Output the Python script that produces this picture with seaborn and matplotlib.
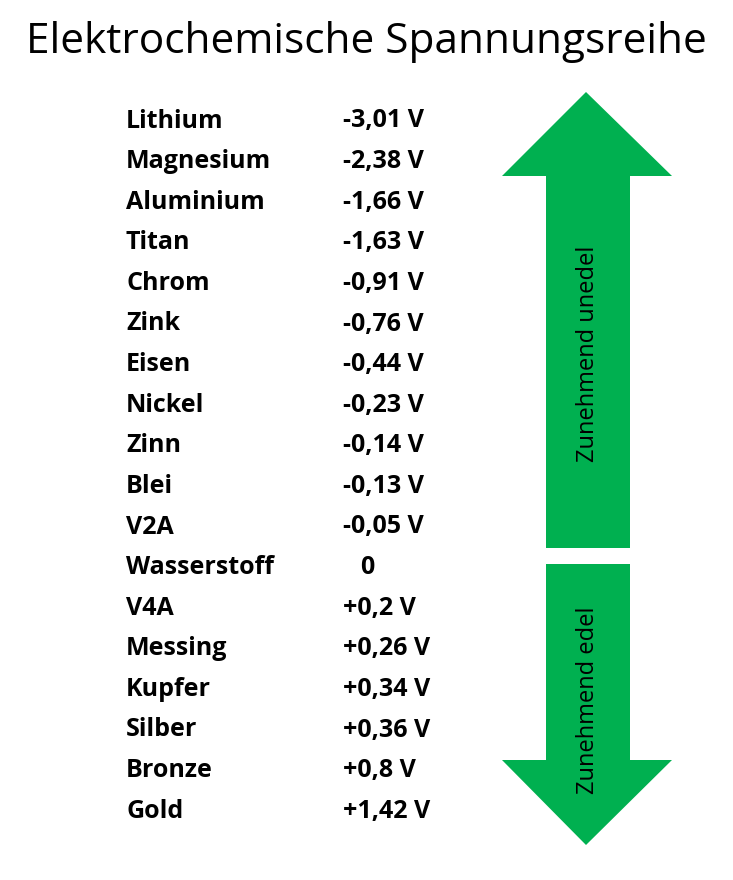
import matplotlib.pyplot as plt
import seaborn as sns
from matplotlib.patches import Polygon

# ---------------------------------------------------------------------------
# Data
# ---------------------------------------------------------------------------
metals = ["Lithium", "Magnesium", "Aluminium", "Titan", "Chrom", "Zink", "Eisen",
          "Nickel", "Zinn", "Blei", "V2A", "Wasserstoff", "V4A", "Messing",
          "Kupfer", "Silber", "Bronze", "Gold"]
potentials = ["-3,01 V", "-2,38 V", "-1,66 V", "-1,63 V", "-0,91 V", "-0,76 V",
              "-0,44 V", "-0,23 V", "-0,14 V", "-0,13 V", "-0,05 V", " 0",
              "+0,2 V", "+0,26 V", "+0,34 V", "+0,36 V", "+0,8 V", "+1,42 V"]
title = "Elektrochemische Spannungsreihe"
up_label = "Zunehmend unedel"
down_label = "Zunehmend edel"

GREEN = "#00B050"

sns.set_theme(style="white")
plt.rcParams["font.family"] = ["Open Sans", "DejaVu Sans"]
plt.rcParams["text.color"] = "black"

fig = plt.figure(figsize=(7.33, 8.8), dpi=100)
ax = fig.add_axes([0, 0, 1, 1])
ax.set_xlim(0, 733)
ax.set_ylim(880, 0)
ax.axis("off")

ax.text(366, 42, title, ha="center", va="center", fontsize=30.5, color="black")

# table rows
y0, dy = 121, 40.6
for i, (name, val) in enumerate(zip(metals, potentials)):
    y = y0 + i * dy
    ax.text(126, y, name, ha="left", va="center", fontsize=18, fontweight="bold",
            color="black")
    x_val = 360 if val.strip() == "0" else 343
    ax.text(x_val, y, val.strip(), ha="left", va="center", fontsize=18,
            fontweight="bold", color="black")

# arrows
up = [(586, 92), (672, 176), (630, 176), (630, 548), (546, 548), (546, 176), (502, 176)]
down = [(546, 564), (630, 564), (630, 760), (672, 760), (586, 845), (502, 760), (546, 760)]
ax.add_patch(Polygon(up, closed=True, facecolor=GREEN, edgecolor="none"))
ax.add_patch(Polygon(down, closed=True, facecolor=GREEN, edgecolor="none"))

ax.text(588, 354, up_label, rotation=90, ha="center", va="center", fontsize=17,
        color="black")
ax.text(588, 700, down_label, rotation=90, ha="center", va="center", fontsize=17,
        color="black")

fig.savefig("out.png", dpi=100, facecolor="white")
